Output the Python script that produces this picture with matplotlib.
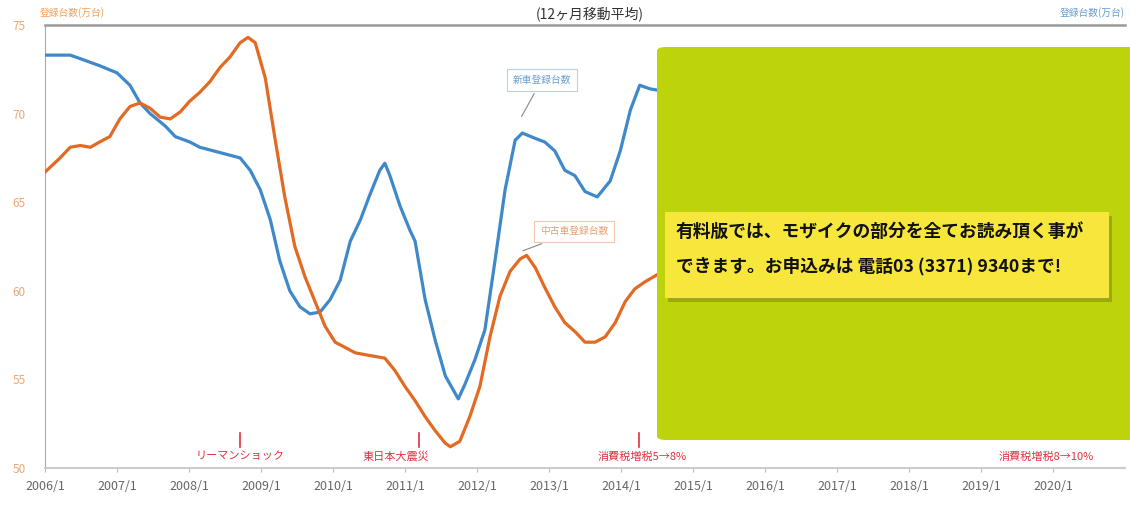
import matplotlib
matplotlib.use("Agg")
import matplotlib.pyplot as plt
from matplotlib.patches import FancyBboxPatch, Rectangle

plt.rcParams['font.family'] = ['Noto Sans CJK JP', 'DejaVu Sans']

# decimal years and values
blue_t = [2006.00, 2006.35, 2006.49, 2006.76, 2007.00, 2007.18, 2007.32, 2007.46, 2007.67,
          2007.81, 2008.01, 2008.15, 2008.43, 2008.71, 2008.85, 2008.99, 2009.13, 2009.26,
          2009.40, 2009.54, 2009.68, 2009.82, 2009.96, 2010.10, 2010.24, 2010.38, 2010.51,
          2010.65, 2010.72, 2010.79, 2010.93, 2011.07, 2011.14, 2011.28, 2011.42, 2011.56,
          2011.74, 2011.83, 2011.97, 2012.11, 2012.25, 2012.39, 2012.53, 2012.63, 2012.81,
          2012.94, 2013.08, 2013.22, 2013.36, 2013.50, 2013.67, 2013.85, 2013.99, 2014.13,
          2014.26, 2014.40, 2014.54]
blue_v = [73.3, 73.3, 73.1, 72.7, 72.3, 71.6, 70.6, 70.0, 69.3,
          68.7, 68.4, 68.1, 67.8, 67.5, 66.8, 65.7, 64.0, 61.7,
          60.0, 59.1, 58.7, 58.8, 59.5, 60.6, 62.8, 64.0, 65.4,
          66.8, 67.2, 66.5, 64.8, 63.4, 62.8, 59.5, 57.2, 55.2,
          53.9, 54.7, 56.1, 57.8, 61.7, 65.7, 68.5, 68.9, 68.6,
          68.4, 67.9, 66.8, 66.5, 65.6, 65.3, 66.2, 67.9, 70.2,
          71.6, 71.4, 71.3]

orange_t = [2006.00, 2006.21, 2006.35, 2006.49, 2006.63, 2006.76, 2006.90, 2007.04, 2007.18,
            2007.32, 2007.46, 2007.60, 2007.74, 2007.88, 2008.01, 2008.15, 2008.29, 2008.43,
            2008.57, 2008.71, 2008.82, 2008.92, 2009.06, 2009.19, 2009.33, 2009.47, 2009.61,
            2009.75, 2009.89, 2010.03, 2010.17, 2010.31, 2010.44, 2010.58, 2010.72, 2010.86,
            2011.00, 2011.14, 2011.28, 2011.42, 2011.56, 2011.63, 2011.76, 2011.90, 2012.04,
            2012.18, 2012.32, 2012.46, 2012.60, 2012.69, 2012.81, 2012.94, 2013.08, 2013.22,
            2013.36, 2013.50, 2013.64, 2013.78, 2013.92, 2014.06, 2014.19, 2014.33, 2014.54]
orange_v = [66.7, 67.5, 68.1, 68.2, 68.1, 68.4, 68.7, 69.7, 70.4,
            70.6, 70.3, 69.8, 69.7, 70.1, 70.7, 71.2, 71.8, 72.6,
            73.2, 74.0, 74.3, 74.0, 72.0, 68.7, 65.3, 62.5, 60.8,
            59.4, 58.0, 57.1, 56.8, 56.5, 56.4, 56.3, 56.2, 55.5,
            54.6, 53.8, 52.9, 52.1, 51.4, 51.2, 51.5, 52.9, 54.6,
            57.4, 59.7, 61.1, 61.8, 62.0, 61.3, 60.2, 59.1, 58.2,
            57.7, 57.1, 57.1, 57.4, 58.2, 59.4, 60.1, 60.5, 61.0]

years = list(range(2006, 2021))
year_labels = [f"{y}/1" for y in years]
y_ticks = [50, 55, 60, 65, 70, 75]

events_t = [2008.71, 2011.19, 2014.25]
events_lbl = ["リーマンショック", "東日本大震災", "消費税増税5→8%"]
event_lbl_x = [2008.71, 2010.88, 2014.3]
tax10_t = 2019.9
tax10_lbl = "消費税増税8→10%"

fig = plt.figure(figsize=(11.3, 5.07), dpi=100)
ax = fig.add_axes([45 / 1130, 39 / 507, 1080 / 1130, 443 / 507])

ax.plot(blue_t, blue_v, color='#3f88c9', lw=2.3, zorder=3)
ax.plot(orange_t, orange_v, color='#e26a22', lw=2.3, zorder=3)

ax.set_xlim(2006.0, 2021.0)
ax.set_ylim(50, 75)
ax.set_xticks(years)
ax.set_xticklabels(year_labels)
ax.set_yticks(y_ticks)
ax.tick_params(axis='x', colors='#bbbbbb', labelcolor='#666666', labelsize=9, length=3, pad=6)
ax.tick_params(axis='y', length=0, labelcolor='#e8a878', labelsize=8.5, pad=14)

ax.spines['right'].set_visible(False)
ax.spines['left'].set_color('#aaaaaa')
ax.spines['bottom'].set_color('#cccccc')
ax.spines['bottom'].set_linewidth(1.5)
ax.spines['top'].set_color('#999999')
ax.spines['top'].set_linewidth(1.8)

# event markers
for t, lx, lbl in zip(events_t, event_lbl_x, events_lbl):
    ax.plot([t, t], [51.2, 51.95], color='#e03040', lw=1.2, zorder=4)
    ax.text(lx, 50.65, lbl, color='#e03040', fontsize=8, ha='center', va='center')
ax.text(tax10_t, 50.65, tax10_lbl, color='#e03040', fontsize=8, ha='center', va='center')

# callouts
ax.annotate("新車登録台数", xy=(2012.6, 69.7), xytext=(2012.9, 71.9),
            fontsize=7, color='#6a9fd0', ha='center', va='center',
            bbox=dict(boxstyle='square,pad=0.6', fc='white', ec='#b8d0e8', lw=0.8),
            arrowprops=dict(arrowstyle='-', color='#888888', lw=0.8), zorder=5)
ax.annotate("中古車登録台数", xy=(2012.6, 62.2), xytext=(2013.35, 63.35),
            fontsize=7, color='#e8a070', ha='center', va='center',
            bbox=dict(boxstyle='square,pad=0.6', fc='white', ec='#f0c8b0', lw=0.8),
            arrowprops=dict(arrowstyle='-', color='#888888', lw=0.8), zorder=5)

# header texts
fig.text(590 / 1130, 1 - 14 / 507, "(12ヶ月移動平均)", fontsize=10, color='#333333',
         ha='center', va='center')
fig.text(40 / 1130, 1 - 13 / 507, "登録台数(万台)", fontsize=7, color='#f0a060',
         ha='left', va='center')
fig.text(1125 / 1130, 1 - 13 / 507, "登録台数(万台)", fontsize=7, color='#6a9fd0',
         ha='right', va='center')

# mosaic overlay
green = FancyBboxPatch((657 / 1130, 67 / 507), 480 / 1130, 393 / 507,
                       boxstyle='round,pad=0,rounding_size=0.008',
                       transform=fig.transFigure, fc='#bdd30c', ec='none', zorder=10)
fig.add_artist(green)
shadow = Rectangle((668 / 1130, 205 / 507), 444 / 1130, 86 / 507,
                   transform=fig.transFigure, fc='#9aab10', ec='none', zorder=11)
fig.add_artist(shadow)
note = Rectangle((665 / 1130, 209 / 507), 444 / 1130, 86 / 507,
                 transform=fig.transFigure, fc='#f7e73c', ec='none', zorder=12)
fig.add_artist(note)
fig.text(676 / 1130, 1 - 232 / 507, "有料版では、モザイクの部分を全てお読み頂く事が",
         fontsize=12.8, fontweight='bold', color='#111111', ha='left', va='center', zorder=13)
fig.text(676 / 1130, 1 - 266 / 507, "できます。お申込みは 電話03 (3371) 9340まで!",
         fontsize=12.8, fontweight='bold', color='#111111', ha='left', va='center', zorder=13)

fig.savefig("out.png", dpi=100)
